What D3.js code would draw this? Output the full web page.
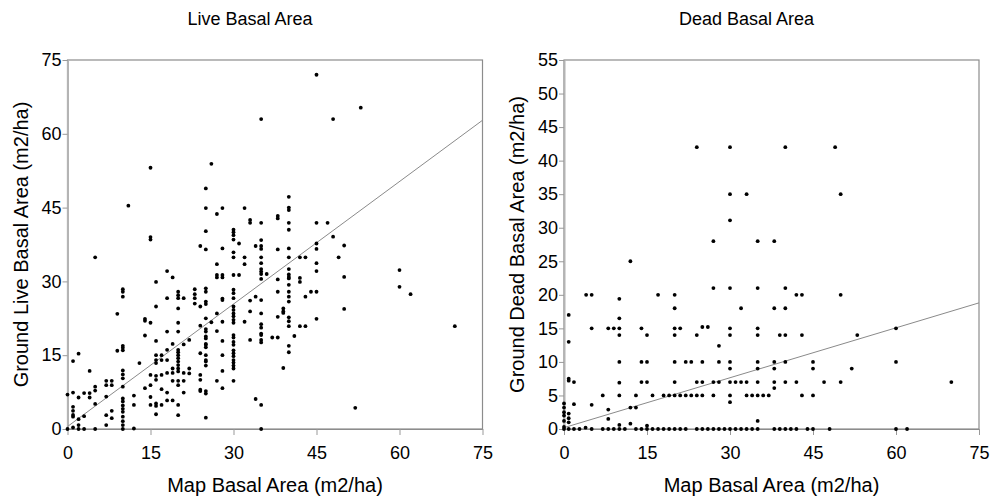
<!DOCTYPE html>
<meta charset="utf-8">
<style>

body {
  margin: 0;
  background: #fff;
}

text {
  font-family: "Liberation Sans", Arial, sans-serif;
  fill: #000;
}

.title {
  font-size: 18px;
}

.axis-label {
  font-size: 20px;
}

.axis .tick text {
  font-size: 18px;
}

.axis .tick line {
  stroke: #999;
}

.frame {
  fill: none;
  stroke: #8c8c8c;
  stroke-width: 1.2px;
}

.fit {
  stroke: #8a8a8a;
  stroke-width: 1px;
}

.dots circle {
  fill: #000;
}

</style>
<svg width="994" height="502"></svg>
<script src="https://d3js.org/d3.v7.min.js"></script>
<script>

// live basal area: map (x) vs ground (y), m2/ha
var liveMap = [
  35,15,26,25,11,25,28,32,27,33,33,35,15,15,25,30,30,30,30,31,24,25,28,34,35,35,35,
  45,53,48,40,40,40,38,38,40,45,47,40,48,45,50,38,40,45,
  42,43,40,49,45,45,50,40,40,40,40,42,42,38,36,60,60,62,38,40,40,40,40,44,45,43,50,39,39,39,38,40,40,40,42,43,45,70,37,38,41,40,40,39,52,
  5,0,0,1,2,3,5,1,2,1,1,1,1,1,2,2,2,3,3,4,4,4,5,5,5,7,8,7,8,7,7,7,8,8,9,9,
  10,10,10,10,10,10,10,10,10,10,10,10,10,10,10,10,10,10,10,
  12,12,12,13,14,14,14,14,15,15,15,15,15,16,16,16,16,16,16,16,16,16,16,16,17,17,17,17,17,
  18,18,18,18,18,18,18,18,19,19,19,19,19,19,
  20,20,20,20,20,20,20,20,20,20,20,20,20,20,20,20,20,20,21,21,21,21,21,22,22,22,
  23,23,23,23,24,24,24,24,24,24,24,
  25,25,25,25,25,25,25,25,25,25,25,25,25,25,25,25,25,25,25,26,
  27,27,27,27,27,27,28,28,28,28,28,28,28,28,28,
  30,30,30,30,30,30,30,30,30,30,30,30,30,30,30,30,30,30,30,30,30,30,30,30,31,32,32,32,33,33,33,34,34,
  35,35,35,35,35,35,35,35,35,35,35,35,35,35,35,35
];
var liveGround = [
  63,53.1,53.9,48.9,45.4,44.9,44.9,44.9,43.7,42.5,41.9,41.9,39,38.5,40.2,40.5,40,39.4,38.5,37.7,37.2,36.5,36.7,37.2,38.4,37.2,36.6,
  72,65.3,63,47.2,45,44.5,43.3,42.8,41.9,41.9,41.9,40.5,39.1,37.7,37.3,36.5,36.7,36.6,
  34.9,34.9,34.9,34.9,33.7,32.1,30.9,32.5,31.4,30.9,30.6,30.7,29.9,30.4,31.5,32.3,28.9,27.4,27.9,29.3,27.9,26.9,25.9,27.9,27.9,26.9,24.4,24.5,23.9,23.6,22.8,22.7,21.9,20.9,20.9,20.9,22.4,20.9,18.6,18.6,18.9,16.9,15.6,12.4,4.3,
  34.9,7,0,0.3,0,0,0,13.8,15.3,7.4,4.5,3.7,2.85,2.5,6.4,2,0.8,7.3,2.6,11.8,7.3,6.4,8.6,7.8,5.1,9.8,9.8,8.9,8.9,6.6,2.8,0.8,3.7,2.2,23.4,15.9,
  28.4,27.9,26.9,16.9,16.5,16,11.9,11.1,10.3,8.6,6.2,5.6,4.8,4.1,3.5,2.5,1.6,0.8,0,
  6.8,4.9,0.1,13.4,22.4,22,19,8.3,21.6,11,8.9,6.5,4.9,29.9,24.9,17.9,15,14,13.4,10.8,10,5.2,4.7,3,15,14,11,8.1,4.9,
  32.1,26.6,19.8,16.1,14,11.4,7.4,5.8,30.8,17.3,12.3,11.4,9.8,5.8,
  27.9,27.2,26.6,24.5,21.6,19.8,16.1,15.6,15,14.4,13.7,13,12.3,11.7,9.8,8.9,4.9,2.8,26.6,17.2,11.4,9.8,7.4,18.1,12.3,11.3,
  28.4,27.4,26.6,25.5,24.9,21,15.4,11,10,8,7.7,
  28.6,27.9,25.9,25.4,22.5,20.3,19.8,18.8,18.4,17.3,17.1,16.6,15,14,13.7,12.9,7.7,7.2,2.3,21.7,
  33.5,31.3,30.8,23.5,19.9,9.8,31.3,30.8,26.5,26.2,21.8,17.9,15,11.8,8.3,
  35.9,34.9,31.3,28.3,27.6,26.6,24.9,24.2,23.5,22.9,22.2,21.6,19.1,18.6,17.7,17.1,16,15.4,14.8,14,13.5,12.9,12.3,9.8,31.3,34.9,33.5,21.8,26.1,23.9,18.1,26.9,6.1,
  34.9,33.7,32.5,32,31.5,30.5,26.2,23.5,21.3,20.6,19.4,19.1,18.1,17.6,4.9,0
];

// dead basal area: map (x) vs ground (y), m2/ha
var deadMap = [
  24,30,30,30,27,33,40,49,50,35,38,
  0,0,0,0,0,0,0,0.85,0.85,0.85,0.85,1.8,0.85,0.85,0.85,0.85,1.8,2.8,3.9,1.8,5,4,5,5,5,
  7,8,8,7,8,9,8,9,10,10,10,10,10,10,10,10,10,11,12,12,12,13,13,14,15,14,15,14,15,16,13,14,15,15,
  16,17,18,19,20,21,22,17,18,19,20,20,20,21,20,20,22,23,20,20,21,22,23,24,25,24,25,26,24,25,25,
  24,25,26,27,28,29,27,27,28,27,28,28,30,30,30,30,30,30,31,32,30,30,30,31,32,32,
  35,40,42,43,50,38,40,35,35,39,40,43,53,60,35,35,38,38,40,45,45,52,60,
  33,35,38,38,40,42,47,50,70,33,34,35,36,37,43,45,35,33,34,35,38,39,40,41,42,44,45,48,60,62
];
var deadGround = [
  42,42,35,31.1,28,35,42,42,35,28,28,
  3.8,3.2,2.5,2,1.2,0.3,0,17,13,7.5,7.2,7,2.3,1.6,1,0,0,0,0.2,3.7,3.6,20,20,15,0,
  5,2.9,1.5,0,0,0,15,15,15,19.4,16.5,14,10,6.9,5,0.6,0,0,25,3.2,0.8,3.2,5,15,14,10,10,7,7,5,0,0,0,0.5,
  0,0,0,0,0,0,0,20,5,5,20,18,15,15,14,10,10,10,7,5,5,5,5,5,5,14,15.2,15.2,7,7,10,
  0,0,0,0,0,0,21,7,7,5,12.4,10,21,15,14,10,9,7,7,7,5,4,0,0,0,18,
  21,21,20,20,20,18,18,15,14,14,14,14,14,15,10,9,10,9,10,10,9,9,10,
  7,7,7,6.1,7,7,7,7,7,5,5,5,5,5,5,5,1.2,0,0,0,0,0,0,0,0,0,0,0,0,0
];

var liveTicksY = [0, 15, 30, 45, 60, 75];
var deadTicksY = [0, 5, 10, 15, 20, 25, 30, 35, 40, 45, 50, 55];
var ticksX = [0, 15, 30, 45, 60, 75];

// least squares lines: [intercept, slope]
var liveFit = [0.5, 0.83];
var deadFit = [0.2, 0.248];

var svg = d3.select("svg"),
    plotTop = 60,
    plotBottom = 429,
    plotWidth = 415;

function drawPanel(left, title, yTitle, xs, ys, yMax, yTicks, fit) {
  var x = d3.scaleLinear().domain([0, 75]).range([left, left + plotWidth]);
  var y = d3.scaleLinear().domain([0, yMax]).range([plotBottom, plotTop]);

  var g = svg.append("g");

  g.append("text")
      .attr("class", "title")
      .attr("x", left + 182.5)
      .attr("y", 25)
      .attr("text-anchor", "middle")
      .text(title);

  g.append("rect")
      .attr("class", "frame")
      .attr("x", x(0))
      .attr("y", y(yMax))
      .attr("width", x(75) - x(0))
      .attr("height", y(0) - y(yMax));

  var xAxis = g.append("g")
      .attr("class", "axis")
      .attr("transform", "translate(0," + plotBottom + ")")
      .call(d3.axisBottom(x).tickValues(ticksX).tickSize(6).tickPadding(11).tickSizeOuter(0));
  xAxis.select(".domain").attr("stroke", "#8c8c8c");

  var yAxis = g.append("g")
      .attr("class", "axis")
      .attr("transform", "translate(" + left + ",0)")
      .call(d3.axisLeft(y).tickValues(yTicks).tickSize(5).tickPadding(1).tickSizeOuter(0));
  yAxis.select(".domain").attr("stroke", "#b4b4b4").attr("stroke-width", 2);

  g.append("line")
      .attr("class", "fit")
      .attr("x1", x(0))
      .attr("y1", y(fit[0]))
      .attr("x2", x(75))
      .attr("y2", y(fit[0] + fit[1] * 75));

  g.append("g")
      .attr("class", "dots")
    .selectAll("circle")
    .data(xs)
    .enter().append("circle")
      .attr("cx", function(d) { return x(d); })
      .attr("cy", function(d, i) { return y(ys[i]); })
      .attr("r", 1.9);

  g.append("text")
      .attr("class", "axis-label")
      .attr("x", left + plotWidth / 2)
      .attr("y", 492)
      .attr("text-anchor", "middle")
      .text("Map Basal Area (m2/ha)");

  g.append("text")
      .attr("class", "axis-label")
      .attr("transform", "translate(" + (left - 40) + "," + ((plotTop + plotBottom) / 2) + ") rotate(-90)")
      .attr("text-anchor", "middle")
      .text(yTitle);
}

drawPanel(67.5, "Live Basal Area", "Ground Live Basal Area (m2/ha)",
    liveMap, liveGround, 75, liveTicksY, liveFit);
drawPanel(564, "Dead Basal Area", "Ground Dead Basal Area (m2/ha)",
    deadMap, deadGround, 55, deadTicksY, deadFit);

</script>
